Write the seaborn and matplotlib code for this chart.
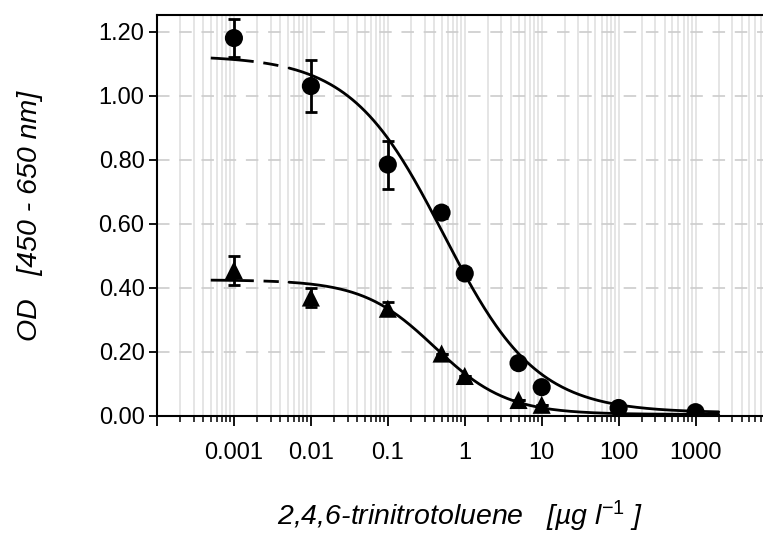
import numpy as np
import pandas as pd
import matplotlib
matplotlib.use("Agg")
import matplotlib.pyplot as plt
import seaborn as sns
from matplotlib.ticker import FixedLocator, LogLocator, NullFormatter, FixedFormatter

# ---- data ----
conc = [0.001, 0.01, 0.1, 0.5, 1, 5, 10, 100, 1000]
od_circle = [1.18, 1.03, 0.785, 0.635, 0.445, 0.165, 0.09, 0.025, 0.012]
err_circle = [0.058, 0.08, 0.075, 0.018, 0.018, 0.0, 0.0, 0.0, 0.0]
od_triangle = [0.455, 0.37, 0.335, 0.195, 0.125, 0.05, 0.035, 0.01, 0.005]
err_triangle = [0.045, 0.03, 0.02, 0.0, 0.0, 0.0, 0.0, 0.0, 0.0]

# four-parameter logistic fit parameters (top, bottom, IC50, slope)
fit_circle = dict(top=1.125, bottom=0.01, c=0.53, b=0.72)
fit_triangle = dict(top=0.425, bottom=0.005, c=0.407, b=0.925)
fit_start, fit_dash_end, fit_stop = 0.0005, 0.0052, 2000

xtick_vals = [0.001, 0.01, 0.1, 1, 10, 100, 1000]
xtick_labels = ["0.001", "0.01", "0.1", "1", "10", "100", "1000"]
ytick_vals = [0.0, 0.2, 0.4, 0.6, 0.8, 1.0, 1.2]

def fourpl(x, p):
    x = np.asarray(x)
    return p["bottom"] + (p["top"] - p["bottom"]) / (1 + (x / p["c"]) ** p["b"])

sns.set_theme(style="white")
plt.rcParams["font.family"] = ["Liberation Sans", "DejaVu Sans"]
plt.rcParams["mathtext.fontset"] = "custom"
plt.rcParams["mathtext.rm"] = "Liberation Sans"
plt.rcParams["mathtext.it"] = "Liberation Sans:italic"
plt.rcParams["lines.scale_dashes"] = False
plt.rcParams["text.color"] = "black"
plt.rcParams["axes.labelcolor"] = "black"
plt.rcParams["xtick.color"] = "black"
plt.rcParams["ytick.color"] = "black"

fig = plt.figure(figsize=(7.63, 5.39), dpi=100)
ax = fig.add_axes([157 / 763, 1 - 416 / 539, 1 - 157 / 763 + 0.001, (416 - 15) / 539])
ax.set_xscale("log")
ax.set_xlim(1e-4, 7700)
ax.set_ylim(0, 1.252)

# grid
ax.xaxis.set_minor_locator(LogLocator(base=10, subs=np.arange(2, 10), numticks=20))
ax.xaxis.set_major_locator(FixedLocator([1e-4] + xtick_vals))
ax.xaxis.set_major_formatter(FixedFormatter([""] + xtick_labels))
ax.xaxis.set_minor_formatter(NullFormatter())
ax.grid(True, which="both", axis="x", color="#e5e5e5", linewidth=1.4, zorder=0)
ax.set_yticks(ytick_vals)
ax.set_yticklabels([f"{v:.2f}" for v in ytick_vals])
ax.grid(True, which="major", axis="y", color="#cccccc", linewidth=1.2,
        linestyle=(0, (9, 7)), zorder=0)
ax.set_axisbelow(True)

# fitted curves
for p in (fit_circle, fit_triangle):
    xd = np.logspace(np.log10(fit_start), np.log10(fit_dash_end), 60)
    xs = np.logspace(np.log10(fit_dash_end), np.log10(fit_stop), 300)
    dfd = pd.DataFrame({"x": xd, "y": fourpl(xd, p)})
    dfs = pd.DataFrame({"x": xs, "y": fourpl(xs, p)})
    sns.lineplot(data=dfd, x="x", y="y", ax=ax, color="black", linewidth=2.0,
                 linestyle=(0, (31, 7, 11, 9)), zorder=3)
    sns.lineplot(data=dfs, x="x", y="y", ax=ax, color="black", linewidth=2.0, zorder=3)

# error bars
for ys, es in ((od_circle, err_circle), (od_triangle, err_triangle)):
    ax.errorbar(conc, ys, yerr=es, fmt="none", ecolor="black", elinewidth=2.0,
                capsize=4.5, capthick=2.0, zorder=4)

df = pd.DataFrame({"conc": conc + conc,
                   "od": od_circle + od_triangle,
                   "kind": ["circle"] * len(conc) + ["triangle"] * len(conc)})
sns.scatterplot(data=df, x="conc", y="od", style="kind",
                markers={"circle": "o", "triangle": "^"}, s=170, color="black",
                edgecolor="black", linewidth=0, ax=ax, legend=False, zorder=5)

# axes styling
ax.spines["right"].set_visible(False)
for side in ("left", "bottom", "top"):
    ax.spines[side].set_color("black")
    ax.spines[side].set_linewidth(1.5)
ax.tick_params(axis="x", which="major", direction="out", length=7, width=1.3,
               bottom=True, colors="black", labelsize=17, pad=12)
ax.tick_params(axis="x", which="minor", direction="out", length=4.5, width=1.1,
               bottom=True, colors="black")
ax.tick_params(axis="y", which="major", direction="out", length=6, width=1.3,
               left=True, colors="black", labelsize=17, pad=3)

ax.set_xlabel(r"2,4,6-trinitrotoluene   [µg l$^{\mathit{-1}}$ ]", fontsize=20.5,
              fontstyle="italic", labelpad=25, color="black")
ax.set_ylabel("OD   [450 - 650 nm]", fontsize=20.5, fontstyle="italic", labelpad=40,
              color="black")

fig.savefig("out.png", dpi=100)
